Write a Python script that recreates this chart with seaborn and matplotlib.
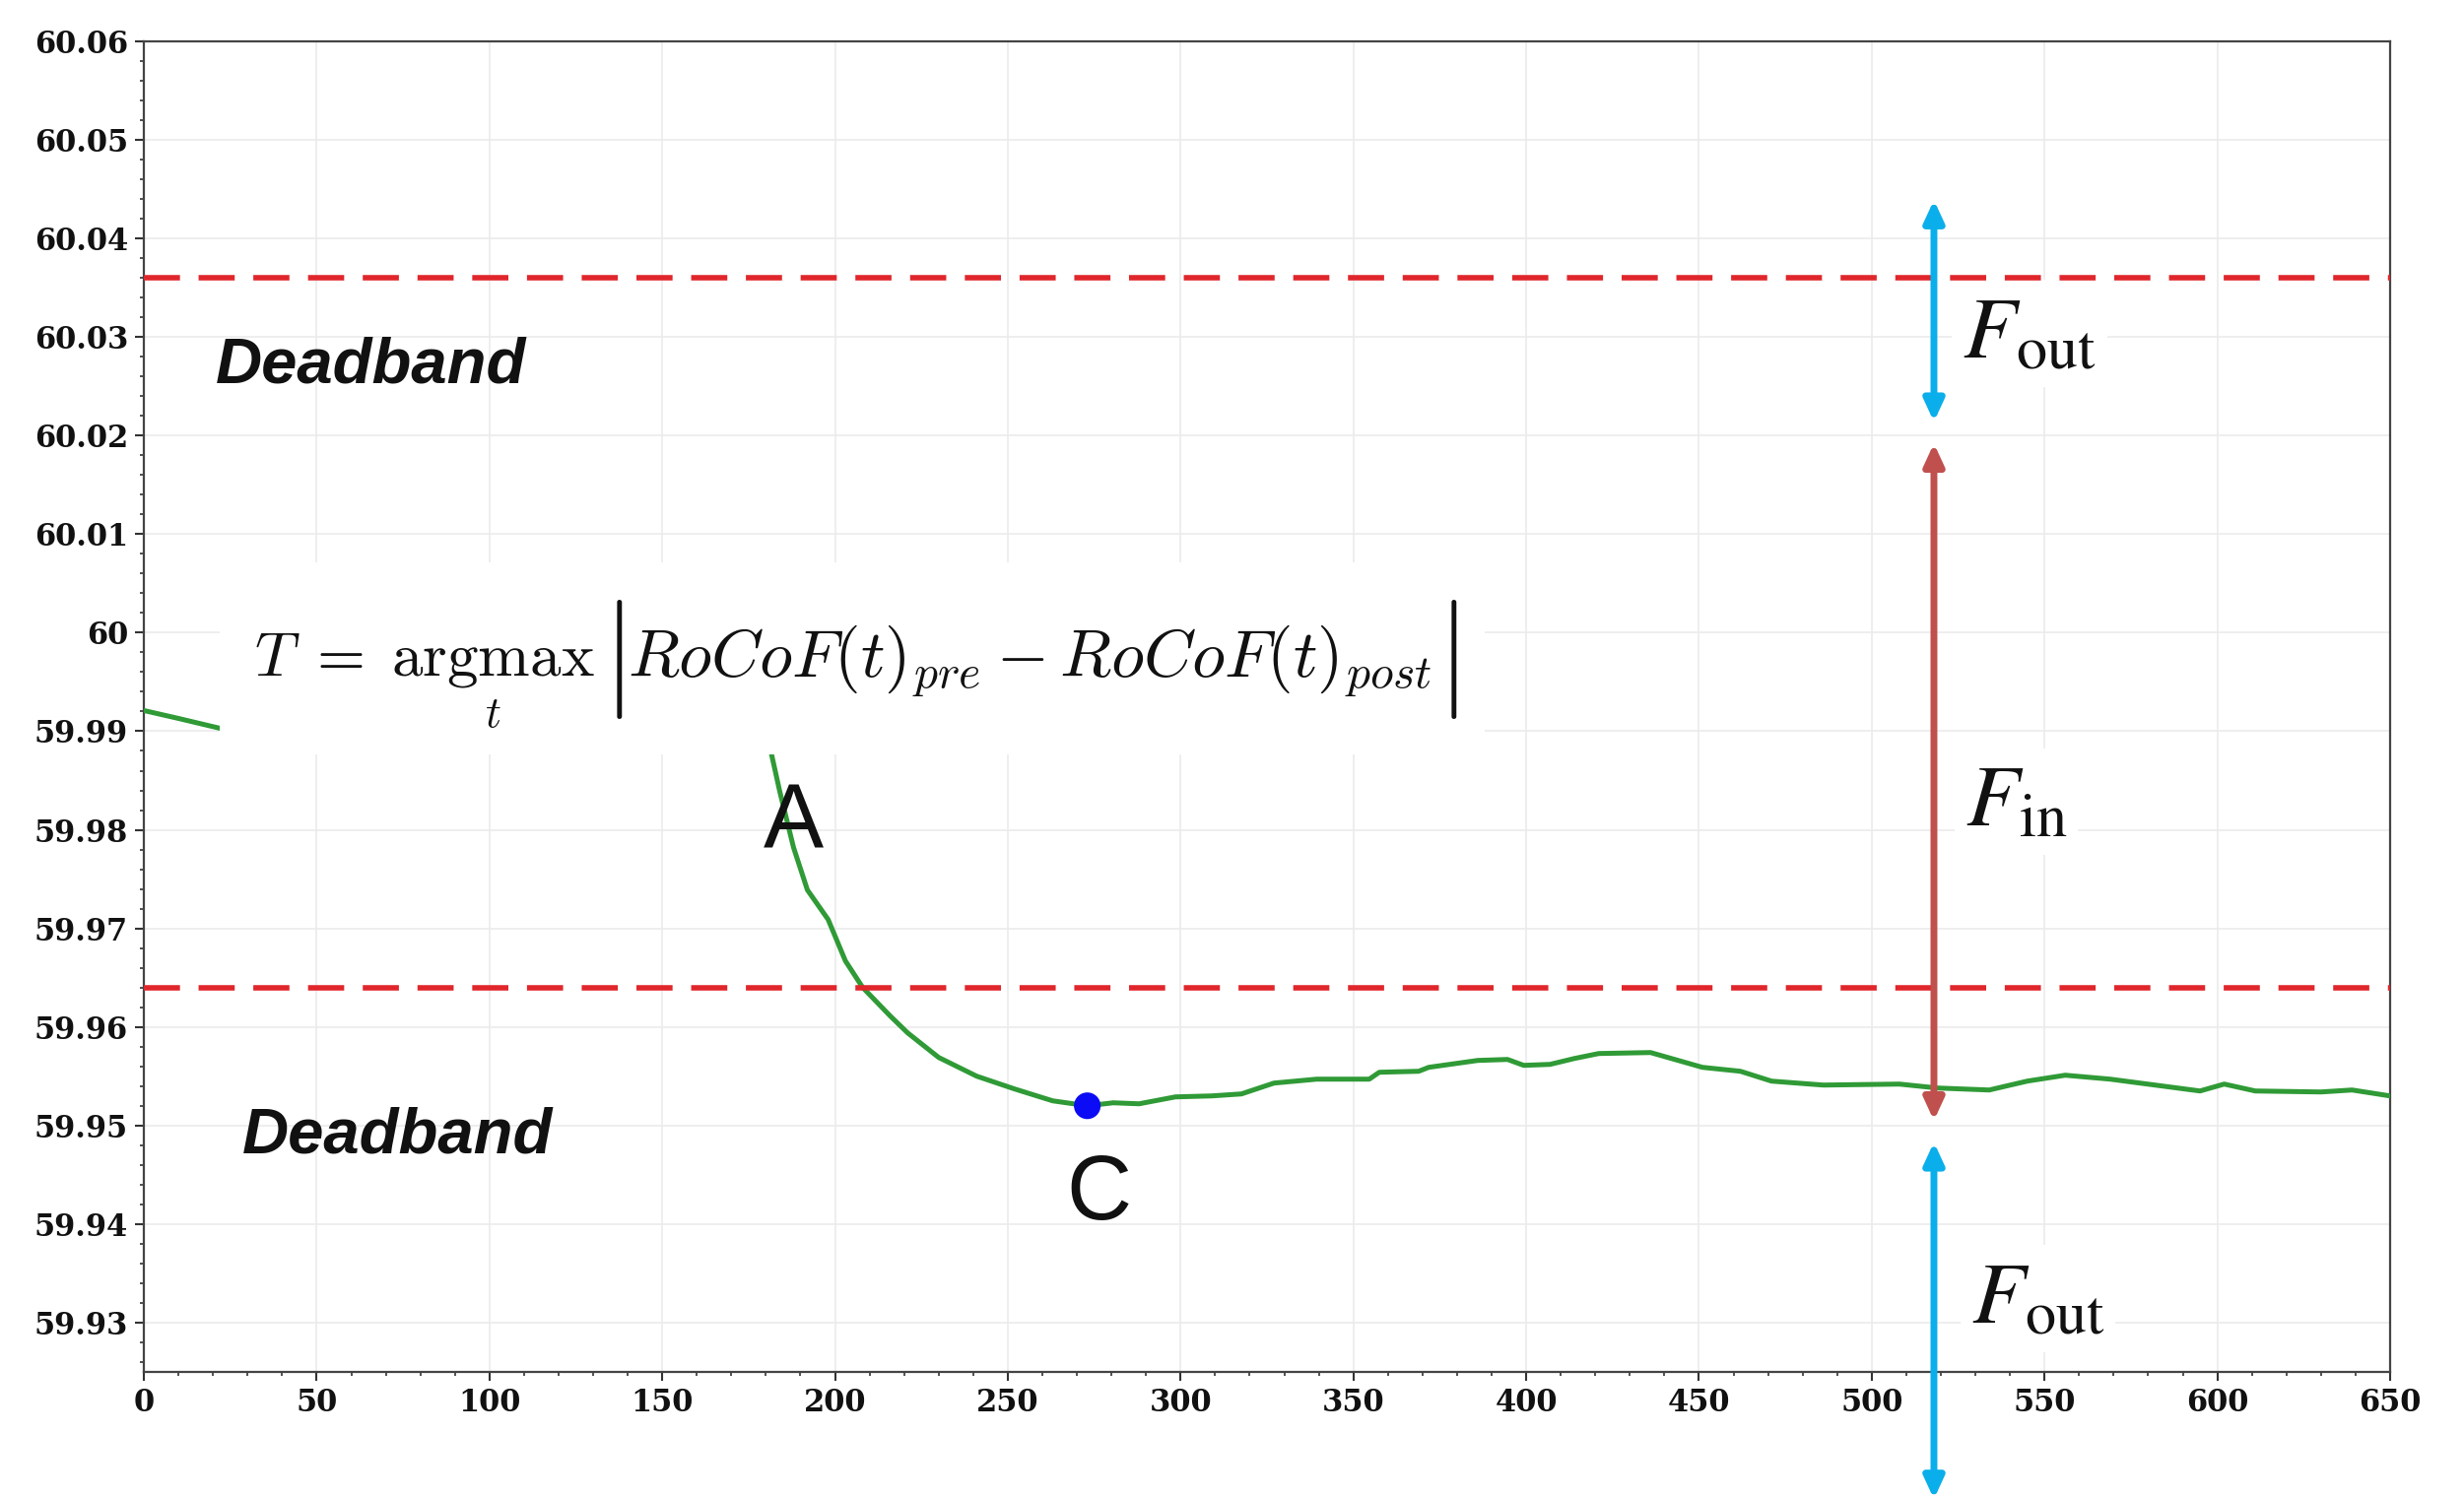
import pandas as pd
import matplotlib.pyplot as plt
import seaborn as sns
from matplotlib.patches import Rectangle
from matplotlib.ticker import MultipleLocator

# -------------------------------
# Data
# (segment 0 runs under the formula panel, segment 1 comes out below it)
# -------------------------------
time_s = [0, 10, 22, 181.6, 184, 188, 192, 198, 203, 208, 216, 221, 230, 241,
          252, 263, 273, 280.5, 288, 298.5, 309, 317.6, 327, 339.4, 354.6,
          357.5, 368.9, 371.8, 386, 394.6, 399.3, 406.9, 414, 421, 436, 451,
          462, 471, 486, 508, 519, 534, 545, 556, 569, 582, 595, 602, 611,
          630, 639, 650]
freq_hz = [59.9921, 59.9913, 59.9903, 59.9877, 59.9839, 59.9782, 59.9739,
           59.9709, 59.9667, 59.9640, 59.9611, 59.9594, 59.9569, 59.9550,
           59.9537, 59.9525, 59.9520, 59.9523, 59.9522, 59.9529, 59.9530,
           59.9532, 59.9543, 59.9547, 59.9547, 59.9554, 59.9555, 59.9559,
           59.9566, 59.9567, 59.9561, 59.9562, 59.9568, 59.9573, 59.9574,
           59.9559, 59.9555, 59.9545, 59.9541, 59.9542, 59.9538, 59.9536,
           59.9545, 59.9551, 59.9547, 59.9541, 59.9535, 59.9542, 59.9535,
           59.9534, 59.9536, 59.9530]
segment = [0, 0, 0] + [1] * 49

deadband = [60.036, 59.964]
point_c_x = [273]
point_c_y = [59.9520]

xticks = list(range(0, 651, 50))
yticks = [59.93, 59.94, 59.95, 59.96, 59.97, 59.98, 59.99, 60.00,
          60.01, 60.02, 60.03, 60.04, 60.05, 60.06]
ytick_labels = ["59.93", "59.94", "59.95", "59.96", "59.97", "59.98", "59.99",
                "60", "60.01", "60.02", "60.03", "60.04", "60.05", "60.06"]

# arrow at t = 518: (start, end) in Hz
arrow_x = 518
f_out_top = (60.0439, 60.0214)
f_in_span = (60.0192, 59.9505)
f_out_bottom = (59.9483, 59.9121)

# white panel behind the formula (t0, f0, width, height)
formula_panel = (21.95, 59.9876, 366.0, 0.0195)

df = pd.DataFrame({"time": time_s, "freq": freq_hz, "segment": segment})
df_c = pd.DataFrame({"time": point_c_x, "freq": point_c_y})

sns.set_theme(style="whitegrid")
plt.rcParams["font.family"] = ["DejaVu Serif"]

fig = plt.figure(figsize=(25.01, 15.21), dpi=100)
ax = fig.add_axes([0.0584, 0.0842, 0.9116, 0.8882])

# -------------------------------
# Curve, deadband lines, point C
# -------------------------------
sns.lineplot(data=df, x="time", y="freq", units="segment", estimator=None,
             color="#2f9a36", lw=3.6, ax=ax, zorder=3)
for v in deadband:
    ax.axhline(v, color="#e0262b", lw=4, dashes=(6.6, 3.4), zorder=6.5)
sns.scatterplot(data=df_c, x="time", y="freq", color="#0b0bf5", s=380,
                edgecolor="none", ax=ax, zorder=5)

ax.set_xlim(0, 650)
ax.set_ylim(59.925, 60.06)
ax.set_xlabel("")
ax.set_ylabel("")

# -------------------------------
# Axes styling
# -------------------------------
ax.set_xticks(xticks)
ax.set_yticks(yticks)
ax.set_xticklabels([str(t) for t in xticks], fontweight="bold", fontsize=22)
ax.set_yticklabels(ytick_labels, fontweight="bold", fontsize=22)
ax.xaxis.set_minor_locator(MultipleLocator(10))
ax.yaxis.set_minor_locator(MultipleLocator(0.002))
ax.tick_params(which="major", bottom=True, left=True, length=6.5, width=1.5,
               color="#333333", pad=5, labelcolor="#111111")
ax.tick_params(which="minor", bottom=True, left=True, length=3, width=1.2,
               color="#333333")
ax.grid(which="major", color="#ebebeb", lw=1.2)
ax.grid(which="minor", visible=False)
for sp in ax.spines.values():
    sp.set_visible(True)
    sp.set_color("#444444")
    sp.set_linewidth(1.6)

# -------------------------------
# Formula panel
# -------------------------------
ax.add_patch(Rectangle(formula_panel[:2], formula_panel[2], formula_panel[3],
                       facecolor="white", edgecolor="none", zorder=5.5))
ax.text(31.9, 59.9955, r"$T\;=\;\underset{t}{\mathrm{argmax}}$", fontsize=45.5,
        math_fontfamily="cm", ha="left", va="baseline", color="#111111", zorder=6)
ax.text(140.0, 59.9955, r"$RoCoF(t)_{pre} - RoCoF(t)_{post}$", fontsize=49,
        math_fontfamily="cm", ha="left", va="baseline", color="#111111", zorder=6)
for bx in [135.7, 377.2]:
    ax.text(bx, 59.9973, r"$|$", fontsize=87, math_fontfamily="cm",
            ha="center", va="center", color="#111111", zorder=6)

# -------------------------------
# Labels
# -------------------------------
for x, y in [(65.6, 60.0254), (73.3, 59.94725)]:
    ax.text(x, y, "Deadband", fontfamily="Liberation Sans", fontweight="bold",
            fontstyle="italic", fontsize=47, ha="center", va="baseline",
            color="#111111", zorder=6)

ax.text(187.9, 59.9781, "A", fontfamily="Liberation Sans", fontweight="normal",
        fontsize=66, ha="center", va="baseline", color="#111111", zorder=6)
ax.text(276.3, 59.9405, "C", fontfamily="Liberation Sans", fontweight="normal",
        fontsize=66, ha="center", va="baseline", color="#111111", zorder=6)


def double_arrow(span, color):
    ann = ax.annotate("", xy=(arrow_x, span[1]), xytext=(arrow_x, span[0]),
                      arrowprops=dict(arrowstyle="<|-|>,head_length=0.65,head_width=0.3",
                                      mutation_scale=20, lw=5, color=color,
                                      shrinkA=0, shrinkB=0),
                      annotation_clip=False, zorder=7)
    ann.arrow_patch.set_clip_on(False)


double_arrow(f_out_top, "#0aaeea")
double_arrow(f_in_span, "#c0504d")
double_arrow(f_out_bottom, "#0aaeea")

label_box = dict(boxstyle="square,pad=0.12", fc="white", ec="none")
ax.text(526.3, 60.0279, r"$F_{\mathrm{out}}$", fontsize=64, math_fontfamily="stix",
        ha="left", va="baseline", color="#111111", zorder=6, bbox=label_box)
ax.text(527.1, 59.9804, r"$F_{\mathrm{in}}$", fontsize=64, math_fontfamily="stix",
        ha="left", va="baseline", color="#111111", zorder=6, bbox=label_box)
ax.text(528.8, 59.9300, r"$F_{\mathrm{out}}$", fontsize=64, math_fontfamily="stix",
        ha="left", va="baseline", color="#111111", zorder=6, bbox=label_box)

fig.savefig("out.png", dpi=100, facecolor="white")
